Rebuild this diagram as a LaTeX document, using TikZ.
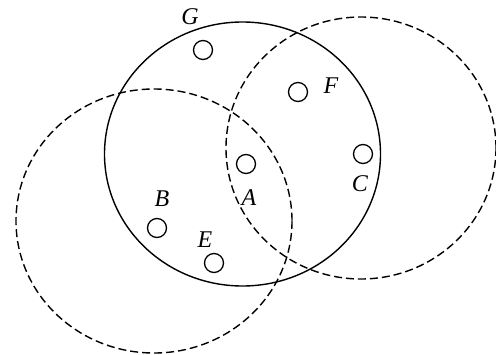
\documentclass[tikz,border=0pt]{standalone}
\usepackage{fontspec}
\setmainfont{Liberation Serif}
\usetikzlibrary{positioning}

\begin{document}
\begin{tikzpicture}[
    x=1pt,y=-1pt,
    item/.style={draw,circle,line width=1.3pt,minimum size=19pt,inner sep=0pt},
    tag/.style={font=\itshape\fontsize{24}{24}\selectfont,inner sep=0pt},
    region/.style={line width=1.4pt},
    zone/.style={region,dash pattern=on 8pt off 4pt}
]
\useasboundingbox (0,0) rectangle (496,354);
% regions
\draw[region] (242.5,154) ellipse [x radius=138,y radius=132];
\draw[zone] (154,221) ellipse [x radius=138,y radius=132];
\draw[zone] (361,148) ellipse [x radius=135,y radius=131];
% points
\node[item] (g) at (203,50) {};
\node[item] (f) at (298,92) {};
\node[item] (a) at (246,164) {};
\node[item] (c) at (363,154) {};
\node[item] (b) at (157,228) {};
\node[item] (e) at (214,263) {};
% labels
\node[tag] (gl) at (190,17) {G};
\node[tag] (fl) at (331,86) {F};
\node[tag] (al) at (249,198) {A};
\node[tag] (cl) at (360,184) {C};
\node[tag] (bl) at (162,199) {B};
\node[tag] (el) at (205,240) {E};
\end{tikzpicture}
\end{document}
